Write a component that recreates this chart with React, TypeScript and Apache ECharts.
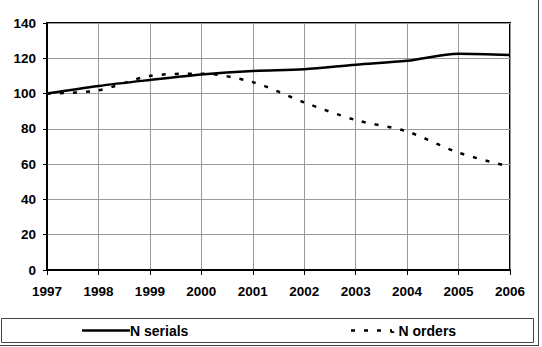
import React, { useEffect, useRef } from "react";
import * as echarts from "echarts";

const years = [1997, 1998, 1999, 2000, 2001, 2002, 2003, 2004, 2005, 2006];
const serials = [100, 104.3, 107.7, 110.8, 112.8, 113.8, 116.4, 118.6, 122.6, 121.8];
const orders = [100, 101.8, 110, 111.3, 106.5, 95, 85, 78.5, 66.5, 58.5];
const yTicks = [0, 20, 40, 60, 80, 100, 120, 140];
const legendNames = ["N serials", "N orders"];

const FONT = "'Liberation Sans', Arial, sans-serif";

export default function App() {
  const ref = useRef<HTMLDivElement>(null);
  useEffect(() => {
    const chart = echarts.init(ref.current!, null, { renderer: "svg" });
    const sData = years.map((y, i) => [y, serials[i]]);
    const oData = years.map((y, i) => [y, orders[i]]);
    const labelStyle = { color: "#000", fontFamily: FONT, fontWeight: "bold", fontSize: 13.5 };
    chart.setOption({
      animation: false,
      backgroundColor: "#fff",
      grid: {
        left: 47,
        right: 32,
        top: 23,
        bottom: 77,
        show: true,
        borderColor: "#000",
        borderWidth: 2,
      },
      xAxis: {
        type: "value",
        min: 1997,
        max: 2006,
        interval: 1,
        axisLine: { show: true, lineStyle: { color: "#000", width: 2 } },
        axisTick: { show: true, length: 5, lineStyle: { color: "#000", width: 1 } },
        axisLabel: {
          ...labelStyle,
          margin: 14,
          formatter: (v: number) => String(v),
        },
        splitLine: { show: true, lineStyle: { color: "#999", width: 1 } },
      },
      yAxis: {
        type: "value",
        min: yTicks[0],
        max: yTicks[yTicks.length - 1],
        interval: 20,
        axisLine: { show: true, lineStyle: { color: "#000", width: 2 } },
        axisTick: { show: true, length: 4, lineStyle: { color: "#000", width: 1 } },
        axisLabel: { ...labelStyle, margin: 11 },
        splitLine: { show: true, lineStyle: { color: "#999", width: 1 } },
      },
      graphic: [
        {
          type: "rect",
          shape: { x: 1.5, y: 318.5, width: 532, height: 24 },
          style: { fill: "none", stroke: "#444", lineWidth: 1 },
          silent: true,
        },
        {
          type: "line",
          shape: { x1: 538.5, y1: 0, x2: 538.5, y2: 346 },
          style: { stroke: "#444", lineWidth: 1 },
          silent: true,
        },
        {
          type: "line",
          shape: { x1: 0, y1: 345.5, x2: 539, y2: 345.5 },
          style: { stroke: "#444", lineWidth: 1 },
          silent: true,
        },
        {
          type: "line",
          shape: { x1: 82, y1: 330.5, x2: 130, y2: 330.5 },
          style: { stroke: "#000", lineWidth: 2.5 },
          silent: true,
        },
        {
          type: "text",
          x: 130,
          y: 330.5,
          style: {
            text: legendNames[0],
            fill: "#000",
            font: "bold 14px " + FONT,
            textVerticalAlign: "middle",
            verticalAlign: "middle",
          },
          silent: true,
        },
        {
          type: "line",
          shape: { x1: 351, y1: 330.5, x2: 392, y2: 330.5 },
          style: { stroke: "#000", lineWidth: 2.5, lineDash: [4, 9] },
          silent: true,
        },
        {
          type: "text",
          x: 390,
          y: 330.5,
          style: {
            text: "- " + legendNames[1],
            fill: "#000",
            font: "bold 14px " + FONT,
            textVerticalAlign: "middle",
            verticalAlign: "middle",
          },
          silent: true,
        },
      ],
      series: [
        {
          name: legendNames[0],
          type: "line",
          data: sData,
          smooth: 0.3,
          showSymbol: false,
          symbol: "none",
          lineStyle: { color: "#000", width: 2.5 },
          itemStyle: { color: "#000" },
        },
        {
          name: legendNames[1],
          type: "line",
          data: oData,
          smooth: 0.3,
          showSymbol: false,
          symbol: "none",
          lineStyle: { color: "#000", width: 2.5, type: [4, 9] },
          itemStyle: { color: "#000" },
        },
      ],
    });
    return () => chart.dispose();
  }, []);
  return (
    <div
      ref={ref}
      style={{ position: "fixed", left: 0, top: 0, width: 542, height: 347 }}
    />
  );
}
